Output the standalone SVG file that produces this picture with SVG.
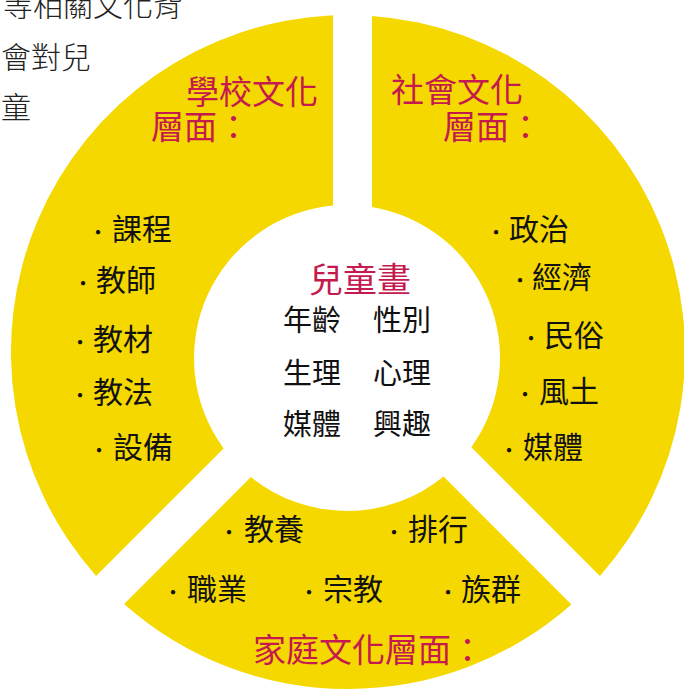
<svg xmlns="http://www.w3.org/2000/svg" width="684" height="690" viewBox="0 0 684 690">
<style>
.seg{fill:#F5D800;stroke:none}
.t{font-family:"Noto Sans CJK TC","Noto Sans CJK SC",sans-serif;fill:#111}
.item{font-size:30px}
.dot{font-size:20px}
.core{font-size:29px}
.title{font-size:33px;fill:#C41A4E}
.side{font-family:"Noto Sans CJK TC",serif;font-size:30px;fill:#222;font-weight:300}
</style>
<rect width="684" height="690" fill="#FFFFFF"/>
<g id="side-text">
<text class="side" x="3" y="16">等相關文化背</text>
<text class="side" x="1" y="68">會對兒</text>
<text class="side" x="1" y="118">童</text>
</g>
<g id="school">
<path class="seg" d="M333,15.3 L333,205.6 A153,153 0 0 0 223.6,448.4 L96.1,575.9 A337,337 0 0 1 333,15.3 Z"/>
<text class="t title" x="186" y="104">學校文化</text>
<text class="t title" x="151" y="139">層面：</text>
<text class="t item" y="240"><tspan class="dot" x="88">·</tspan><tspan x="112">課程</tspan></text>
<text class="t item" y="291"><tspan class="dot" x="73">·</tspan><tspan x="96">教師</tspan></text>
<text class="t item" y="350"><tspan class="dot" x="70">·</tspan><tspan x="93">教材</tspan></text>
<text class="t item" y="403"><tspan class="dot" x="70">·</tspan><tspan x="93">教法</tspan></text>
<text class="t item" y="458"><tspan class="dot" x="89">·</tspan><tspan x="113">設備</tspan></text>
</g>
<g id="society">
<path class="seg" d="M372,15.9 A337,337 0 0 1 599.9,575.9 L471.3,447.3 A153,153 0 0 0 372,207.1 Z"/>
<text class="t title" x="391" y="102">社會文化</text>
<text class="t title" x="443" y="139">層面：</text>
<text class="t item" y="240"><tspan class="dot" x="486">·</tspan><tspan x="509">政治</tspan></text>
<text class="t item" y="288"><tspan class="dot" x="510">·</tspan><tspan x="532">經濟</tspan></text>
<text class="t item" y="346"><tspan class="dot" x="521">·</tspan><tspan x="544">民俗</tspan></text>
<text class="t item" y="402"><tspan class="dot" x="515">·</tspan><tspan x="539">風土</tspan></text>
<text class="t item" y="458"><tspan class="dot" x="499">·</tspan><tspan x="523">媒體</tspan></text>
</g>
<g id="family">
<path class="seg" d="M250.9,477.1 A153,153 0 0 0 443.6,476.6 L571.4,604.4 A337,337 0 0 1 124.1,603.9 Z"/>
<text class="t item" y="540"><tspan class="dot" x="219">·</tspan><tspan x="244">教養</tspan></text>
<text class="t item" y="540"><tspan class="dot" x="384">·</tspan><tspan x="408">排行</tspan></text>
<text class="t item" y="600"><tspan class="dot" x="163">·</tspan><tspan x="187">職業</tspan></text>
<text class="t item" y="600"><tspan class="dot" x="299">·</tspan><tspan x="323">宗教</tspan></text>
<text class="t item" y="600"><tspan class="dot" x="438">·</tspan><tspan x="461">族群</tspan></text>
<text class="t title" x="253" y="662">家庭文化層面：</text>
</g>
<g id="child">
<text class="t title" x="309" y="292" style="font-size:34px">兒童畫</text>
<text class="t core" x="283" y="331">年齡</text>
<text class="t core" x="373" y="331">性別</text>
<text class="t core" x="283" y="384">生理</text>
<text class="t core" x="373" y="384">心理</text>
<text class="t core" x="283" y="435">媒體</text>
<text class="t core" x="373" y="435">興趣</text>
</g>
<g id="connectors"></g>
</svg>
